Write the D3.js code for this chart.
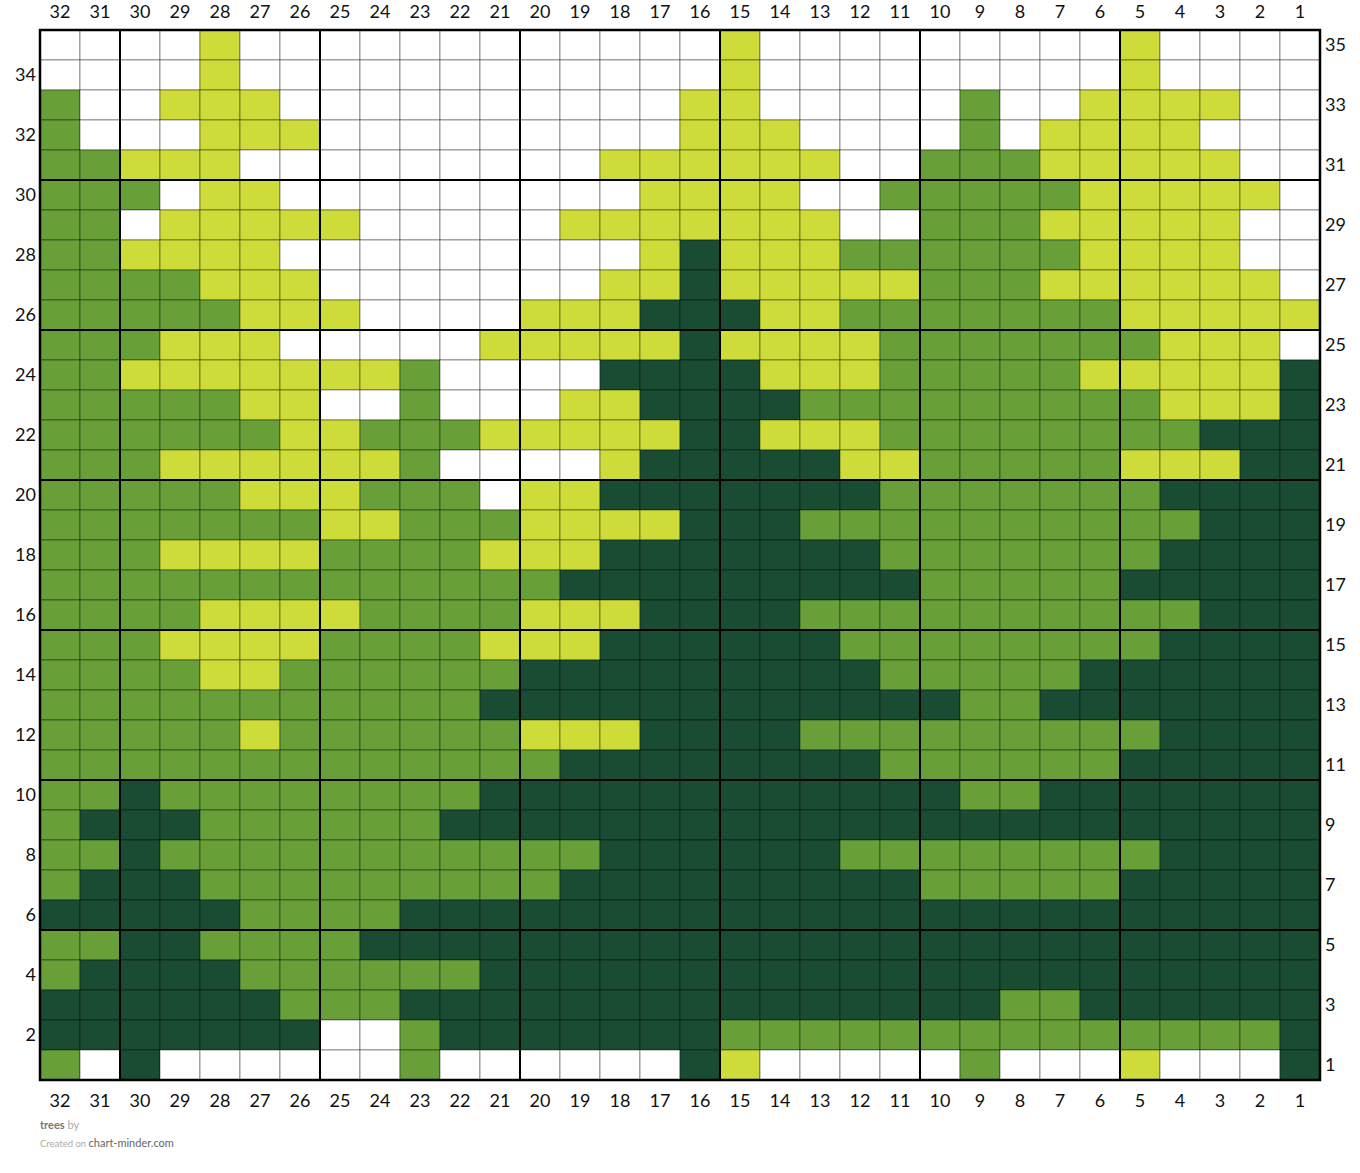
<!DOCTYPE html>
<html>
<head>
<meta charset="utf-8">
<script src="https://cdn.jsdelivr.net/npm/d3@7"></script>
<style>
  body { margin: 0; background: #fff; }
  svg { display: block; font-family: Lato, "Open Sans", sans-serif; }
</style>
</head>
<body>
<svg id="chart" width="1360" height="1173"></svg>
<script>
// column numbers, left to right
var colNumbers = d3.range(32, 0, -1);
// row numbers, top to bottom
var rowNumbers = d3.range(35, 0, -1);

// W white, Y lime, G green, D dark green
var palette = {W: '#ffffff', Y: '#cddc39', G: '#689f38', D: '#1a4b33'};

// one string per row (35 down to 1), cols 32..1
var stitchRows = [
  'WW WWYWW WWWWW WWWWW YWWWW WWWWW YWWWW',
  'WW WWYWW WWWWW WWWWW YWWWW WWWWW YWWWW',
  'GW WYYYW WWWWW WWWWY YWWWW WGWWY YYYWW',
  'GW WWYYY WWWWW WWWWY YYWWW WGWYY YYWWW',
  'GG YYYWW WWWWW WWYYY YYYWW GGGYY YYYWW',
  'GG GWYYW WWWWW WWWYY YYWWG GGGGY YYYYW',
  'GG WYYYY YWWWW WYYYY YYYWW GGGYY YYYWW',
  'GG YYYYW WWWWW WWWYD YYYGG GGGGY YYYWW',
  'GG GGYYY WWWWW WWYYD YYYYY GGGYY YYYYW',
  'GG GGGYY YWWWW YYYDD DYYGG GGGGG YYYYY',
  'GG GYYYW WWWWY YYYYD YYYYG GGGGG GYYYW',
  'GG YYYYY YYGWW WWDDD DYYYG GGGGY YYYYD',
  'GG GGGYY WWGWW WYYDD DDGGG GGGGG GYYYD',
  'GG GGGGY YGGGY YYYYD DYYYG GGGGG GGDDD',
  'GG GYYYY YYGWW WWYDD DDDYY GGGGG YYYDD',
  'GG GGGYY YGGGW YYDDD DDDDG GGGGG GDDDD',
  'GG GGGGG YYGGG YYYYD DDGGG GGGGG GGDDD',
  'GG GYYYY GGGGY YYDDD DDDDG GGGGG GDDDD',
  'GG GGGGG GGGGG GDDDD DDDDD GGGGG DDDDD',
  'GG GGYYY YGGGG YYYDD DDGGG GGGGG GGDDD',
  'GG GYYYY GGGGY YYDDD DDDGG GGGGG GDDDD',
  'GG GGYYG GGGGG DDDDD DDDDG GGGGD DDDDD',
  'GG GGGGG GGGGD DDDDD DDDDD DGGDD DDDDD',
  'GG GGGYG GGGGG YYYDD DDGGG GGGGG GDDDD',
  'GG GGGGG GGGGG GDDDD DDDDG GGGGG DDDDD',
  'GG DGGGG GGGGD DDDDD DDDDD DGGDD DDDDD',
  'GD DDGGG GGGDD DDDDD DDDDD DDDDD DDDDD',
  'GG DGGGG GGGGG GGDDD DDDGG GGGGG GDDDD',
  'GD DDGGG GGGGG GDDDD DDDDD GGGGG DDDDD',
  'DD DDDGG GGDDD DDDDD DDDDD DDDDD DDDDD',
  'GG DDGGG GDDDD DDDDD DDDDD DDDDD DDDDD',
  'GD DDDGG GGGGD DDDDD DDDDD DDDDD DDDDD',
  'DD DDDDG GGDDD DDDDD DDDDD DDGGD DDDDD',
  'DD DDDDD WWGDD DDDDD GGGGG GGGGG GGGGD',
  'GW DWWWW WWGWW WWWWD YWWWW WGWWW YWWWD'
];

var svg = d3.select('#chart');
var marginLeft = 40, marginTop = 30, cellW = 40, cellH = 30;

var x = d3.scaleBand().domain(colNumbers)
  .range([marginLeft, marginLeft + cellW * colNumbers.length]);
var y = d3.scaleBand().domain(rowNumbers)
  .range([marginTop, marginTop + cellH * rowNumbers.length]);

// flatten into cells
var cells = [];
stitchRows.forEach(function(s, i) {
  var chars = s.replace(/ /g, '');
  for (var j = 0; j < chars.length; j++) {
    cells.push({row: rowNumbers[i], col: colNumbers[j], c: chars[j]});
  }
});

svg.append('g').selectAll('rect')
  .data(cells)
  .enter().append('rect')
  .attr('x', function(d) { return x(d.col); })
  .attr('y', function(d) { return y(d.row); })
  .attr('width', x.bandwidth())
  .attr('height', y.bandwidth())
  .attr('fill', function(d) { return palette[d.c]; })
  .attr('stroke', 'rgba(0,0,0,0.4)')
  .attr('stroke-width', 1);

// heavy lines every 5 stitches / rows
var x0 = x.range()[0], x1 = x.range()[1];
var y0 = y.range()[0], y1 = y.range()[1];

svg.append('g').selectAll('line')
  .data(colNumbers.filter(function(c) { return c % 5 == 0 && c < 32; }))
  .enter().append('line')
  .attr('x1', function(c) { return x(c); })
  .attr('x2', function(c) { return x(c); })
  .attr('y1', y0).attr('y2', y1)
  .attr('stroke', '#000').attr('stroke-width', 2);

svg.append('g').selectAll('line')
  .data(rowNumbers.filter(function(r) { return r % 5 == 0 && r < 35; }))
  .enter().append('line')
  .attr('y1', function(r) { return y(r); })
  .attr('y2', function(r) { return y(r); })
  .attr('x1', x0).attr('x2', x1)
  .attr('stroke', '#000').attr('stroke-width', 2);

svg.append('rect')
  .attr('x', x0).attr('y', y0)
  .attr('width', x1 - x0).attr('height', y1 - y0)
  .attr('fill', 'none').attr('stroke', '#000').attr('stroke-width', 2.5);

// axes
function styleAxis(g) {
  g.select('.domain').remove();
  g.selectAll('text').attr('font-size', 18).attr('fill', '#111')
    .attr('font-family', 'Lato, sans-serif');
}

svg.append('g').attr('transform', 'translate(0,' + y0 + ')')
  .call(d3.axisTop(x).tickSize(0).tickPadding(12)).call(styleAxis);
svg.append('g').attr('transform', 'translate(0,' + y1 + ')')
  .call(d3.axisBottom(x).tickSize(0).tickPadding(14)).call(styleAxis);
svg.append('g').attr('transform', 'translate(' + x0 + ',0)')
  .call(d3.axisLeft(y).tickSize(0).tickPadding(4)
    .tickValues(rowNumbers.filter(function(r) { return r % 2 == 0; })))
  .call(styleAxis);
svg.append('g').attr('transform', 'translate(' + x1 + ',0)')
  .call(d3.axisRight(y).tickSize(0).tickPadding(5)
    .tickValues(rowNumbers.filter(function(r) { return r % 2 == 1; })))
  .call(styleAxis);

// footer
var t1 = svg.append('text').attr('x', 40).attr('y', 1129)
  .attr('font-size', 11).attr('fill', '#777');
t1.append('tspan').attr('font-weight', 'bold').text('trees');
t1.append('tspan').attr('fill', '#aaa').text(' by');

var t2 = svg.append('text').attr('x', 40).attr('y', 1147)
  .attr('font-size', 9.5).attr('fill', '#aaa');
t2.append('tspan').text('Created on ');
t2.append('tspan').attr('font-size', 11).attr('fill', '#666').text('chart-minder.com');
</script>
</body>
</html>
